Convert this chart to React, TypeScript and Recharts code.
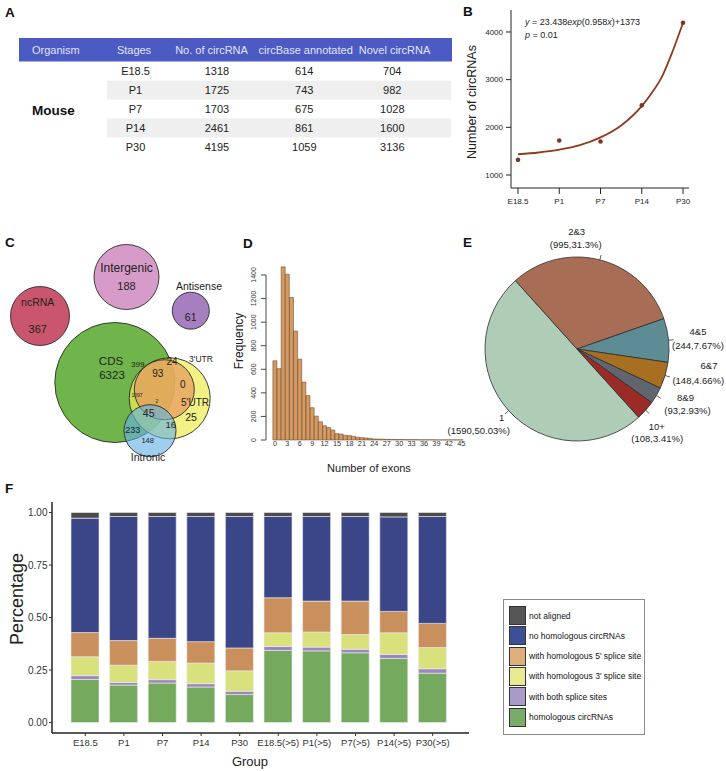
import React from 'react';
import {
  ScatterChart, Scatter, XAxis, YAxis, BarChart, Bar, PieChart, Pie, Cell, ReferenceLine,
} from 'recharts';

const FONT = '"Liberation Sans", Arial, Helvetica, sans-serif';

/* ---------------- Panel A: table ---------------- */
const tableHeaders = ['Organism', 'Stages', 'No. of circRNA', 'circBase annotated', 'Novel circRNA'];
const organism = 'Mouse';
const stages = ['E18.5', 'P1', 'P7', 'P14', 'P30'];
const circTotal = [1318, 1725, 1703, 2461, 4195];
const circBaseAnnotated = [614, 743, 675, 861, 1059];
const novelCirc = [704, 982, 1028, 1600, 3136];

/* ---------------- Panel B: fit ---------------- */
const stagePos = [1, 2, 3, 4, 5];
const fitPosX = [1, 1.5, 2, 2.5, 3, 3.5, 4, 4.25, 4.5, 4.75, 5];
const fitValues = [1435, 1472, 1531, 1625, 1789, 2040, 2445, 2730, 3080, 3600, 4195];
const bTicks = [1000, 2000, 3000, 4000];

/* ---------------- Panel C: Venn ---------------- */
const vennSetNames = ['ncRNA', 'Intergenic', 'Antisense', 'CDS', "5'UTR", "3'UTR", 'Intronic'];
const vennRegionCounts = [367, 188, 61, 6323, 399, 24, 93, 0, 1097, 2, 25, 45, 16, 233, 148];

/* ---------------- Panel D: histogram ---------------- */
const exonFrequency = [
  672, 605, 1469, 1407, 1209, 924, 686, 492, 376, 274,
  203, 155, 121, 105, 85, 54, 51, 40, 37, 31,
  23, 20, 17, 14, 9, 8, 7, 6, 5, 5,
  4, 4, 3, 3, 3, 2, 2, 2, 2, 1,
  1, 1, 1, 1, 1, 1,
];
const histYTicks = [0, 200, 400, 600, 800, 1000, 1200, 1400];

/* ---------------- Panel E: pie ---------------- */
const exonGroups = ['1', '2&3', '4&5', '6&7', '8&9', '10+'];
const exonGroupCounts = [1590, 995, 244, 148, 93, 108];
const exonGroupPct = ['50.03', '31.3', '7.67', '4.66', '2.93', '3.41'];

/* ---------------- Panel F: stacked bars ---------------- */
const fGroups = ['E18.5', 'P1', 'P7', 'P14', 'P30', 'E18.5(>5)', 'P1(>5)', 'P7(>5)', 'P14(>5)', 'P30(>5)'];
const homologous = [0.205, 0.178, 0.188, 0.169, 0.133, 0.343, 0.341, 0.332, 0.305, 0.235];
const bothSites = [0.018, 0.013, 0.016, 0.016, 0.016, 0.019, 0.018, 0.017, 0.019, 0.021];
const threePrime = [0.090, 0.082, 0.087, 0.098, 0.097, 0.065, 0.072, 0.070, 0.103, 0.101];
const fivePrime = [0.115, 0.117, 0.110, 0.102, 0.109, 0.167, 0.147, 0.159, 0.102, 0.115];
const noHomologous = [0.545, 0.591, 0.580, 0.596, 0.626, 0.387, 0.403, 0.403, 0.450, 0.509];
const notAligned = [0.027, 0.019, 0.019, 0.019, 0.019, 0.019, 0.019, 0.019, 0.021, 0.019];
const fSeriesLabels = [
  'homologous circRNAs', 'with both splice sites', "with homologous 3' splice site",
  "with homologous 5' splice site", 'no homologous circRNAs', 'not aligned',
];
const fTicks = [0, 0.25, 0.5, 0.75, 1];

/* ---------------- styles / layout ---------------- */
const fSeriesKeys = ['homologous', 'bothSites', 'threePrime', 'fivePrime', 'noHomologous', 'notAligned'];
const fSeriesColors = ['#74A95E', '#9C86C2', '#D9E17D', '#C98F5D', '#3B4689', '#4B4B4B'];
const fLegendColors = ['#79AC66', '#A99BC9', '#E9EA92', '#DDB07C', '#3E4F96', '#555555'];
const pieColors = ['#AFCCB7', '#A86D55', '#5E8C95', '#A66F21', '#60656F', '#9B2B27'];

const vennCircleLayout = [
  { cx: 40, cy: 76, r: 29.5, fill: '#C9566C', op: 1 },
  { cx: 126.5, cy: 37, r: 32.5, fill: '#D79BC9', op: 1 },
  { cx: 190.8, cy: 70.7, r: 18.5, fill: '#A77EC0', op: 1 },
  { cx: 114.8, cy: 142.5, r: 60, fill: '#6FB54B', op: 1 },
  { cx: 169.7, cy: 158.3, r: 40.5, fill: '#EDEC55', op: 0.72 },
  { cx: 164.3, cy: 149.7, r: 30, fill: '#E69A5E', op: 0.72 },
  { cx: 150, cy: 190.7, r: 26, fill: '#63B2E3', op: 0.62 },
];
const vennNameLayout = [
  { x: 37.7, y: 62, fs: 10.5 },
  { x: 126.5, y: 28, fs: 12 },
  { x: 199, y: 46, fs: 10.5 },
  { x: 111, y: 121.3, fs: 11.5 },
  { x: 195, y: 162, fs: 10 },
  { x: 201, y: 119.3, fs: 8.5 },
  { x: 148, y: 216.7, fs: 10.5 },
];
const vennCountLayout = [
  { x: 37.7, y: 89, fs: 11 },
  { x: 126.5, y: 46, fs: 11 },
  { x: 190.7, y: 76.7, fs: 10.5 },
  { x: 112, y: 134.8, fs: 11.5 },
  { x: 137.7, y: 124.3, fs: 8 },
  { x: 172, y: 121.3, fs: 10 },
  { x: 157.7, y: 133.3, fs: 10 },
  { x: 182.7, y: 144.3, fs: 10 },
  { x: 137, y: 155, fs: 5 },
  { x: 157, y: 160.7, fs: 5 },
  { x: 191, y: 177, fs: 10.5 },
  { x: 148.7, y: 172.7, fs: 10.5 },
  { x: 170.7, y: 184.7, fs: 9.5 },
  { x: 132.7, y: 190, fs: 9 },
  { x: 147.7, y: 200.3, fs: 7.5 },
];
const pieLabelLayout = [
  { x1: -75.3, y1: 68.3, x2: -98.3, y2: 81 },
  { x1: -0.3, y1: -117.3, x2: -1.3, y2: -104.7 },
  { x1: 121, y1: -17.3, x2: 121, y2: -4 },
  { x1: 132, y1: 16.7, x2: 121.3, y2: 31 },
  { x1: 108.5, y1: 48.7, x2: 110.5, y2: 61.7 },
  { x1: 79.7, y1: 77, x2: 80.2, y2: 89.3 },
];

/* ---------------- derived chart tables ---------------- */
const pointsB = stagePos.map((x, i) => ({ x, y: circTotal[i] }));
const curveB = fitPosX.map((x, i) => ({ x, y: fitValues[i] }));
const vennCircleData = vennSetNames.map((name, i) => ({ name, x: vennCircleLayout[i].cx, y: vennCircleLayout[i].cy, i }));
const vennTextData = [
  ...vennSetNames.map((name, i) => ({ text: name, x: vennNameLayout[i].x, y: vennNameLayout[i].y, fs: vennNameLayout[i].fs })),
  ...vennRegionCounts.map((c, i) => ({ text: String(c), x: vennCountLayout[i].x, y: vennCountLayout[i].y, fs: vennCountLayout[i].fs })),
];
const histData = exonFrequency.map((freq, i) => ({ exons: i, freq }));
const pieData = exonGroups.map((group, i) => ({ group, count: exonGroupCounts[i] }));
const fSeriesValues = [homologous, bothSites, threePrime, fivePrime, noHomologous, notAligned];
const fData = fGroups.map((group, gi) => {
  const row: any = { group };
  fSeriesKeys.forEach((k, si) => { row[k] = fSeriesValues[si][gi]; });
  return row;
});

/* ---------------- panels ---------------- */
function PanelA() {
  const headX = [32, 134, 211.5, 305.7, 394.5];
  const colX = [135.5, 217, 304.3, 392.3];
  const rowY = [71, 90.3, 109.3, 128, 146.7];
  return (
    <svg width={460} height={170} style={{ position: 'absolute', left: 0, top: 0 }} fontFamily={FONT}>
      <rect x={19} y={38} width={433} height={23.5} fill="#4C5AC4" />
      {tableHeaders.map((h, i) => (
        <text key={h} x={headX[i]} y={50} textAnchor={i === 0 ? 'start' : 'middle'} dominantBaseline="central" fontSize={11} fill="#E2E5F5">{h}</text>
      ))}
      {stages.map((s, i) => (i % 2 === 1 ? (
        <rect key={'bg' + s} x={107} y={rowY[i] - 9.6} width={344} height={19} fill="#EFEFEF" />
      ) : null))}
      {stages.map((s, i) => (
        <g key={s} fontSize={11} fill="#222">
          <text x={colX[0]} y={rowY[i]} textAnchor="middle" dominantBaseline="central">{s}</text>
          <text x={colX[1]} y={rowY[i]} textAnchor="middle" dominantBaseline="central">{circTotal[i]}</text>
          <text x={colX[2]} y={rowY[i]} textAnchor="middle" dominantBaseline="central">{circBaseAnnotated[i]}</text>
          <text x={colX[3]} y={rowY[i]} textAnchor="middle" dominantBaseline="central">{novelCirc[i]}</text>
        </g>
      ))}
      <text x={32} y={110} dominantBaseline="central" fontSize={13.5} fontWeight="bold" fill="#111">{organism}</text>
    </svg>
  );
}

const axisStroke = '#222';

function PanelB() {
  return (
    <div style={{ position: 'absolute', left: 460, top: 0 }}>
      <ScatterChart width={266} height={220} margin={{ top: 10, right: 37, bottom: 0, left: 0 }}>
        <XAxis type="number" dataKey="x" domain={[0.83, 5.145]} allowDataOverflow ticks={stagePos}
          tickFormatter={(v: number) => stages[v - 1]} interval={0} height={32} tickSize={6} tickMargin={4}
          axisLine={{ stroke: axisStroke }} tickLine={{ stroke: axisStroke }}
          tick={{ fontSize: 8, fill: '#222', fontFamily: FONT }} />
        <XAxis xAxisId="top" orientation="top" type="number" dataKey="x" domain={[0.83, 5.145]} allowDataOverflow
          height={0} tick={false} tickLine={false} axisLine={{ stroke: axisStroke }} />
        <YAxis type="number" dataKey="y" domain={[727, 4461]} allowDataOverflow ticks={bTicks} interval={0}
          width={51} tickSize={5} tickMargin={3} axisLine={{ stroke: axisStroke }} tickLine={{ stroke: axisStroke }}
          tick={{ fontSize: 8, fill: '#222', fontFamily: FONT }} />
        <YAxis yAxisId="right" orientation="right" type="number" dataKey="y" domain={[727, 4461]} allowDataOverflow
          width={0} tick={false} tickLine={false} axisLine={{ stroke: axisStroke }} />
        <Scatter data={curveB} line={{ stroke: '#8E3B1E', strokeWidth: 1.8 }} lineJointType="monotoneX"
          shape={(p: any) => <circle cx={p.cx} cy={p.cy} r={0} />} isAnimationActive={false} />
        <Scatter data={pointsB} shape={(p: any) => <circle cx={p.cx} cy={p.cy} r={2.3} fill="#7E3520" />}
          isAnimationActive={false} />
      </ScatterChart>
    </div>
  );
}

function PanelC() {
  return (
    <div style={{ position: 'absolute', left: 0, top: 240 }}>
      <ScatterChart width={260} height={230} margin={{ top: 0, right: 0, bottom: 0, left: 0 }}>
        <XAxis type="number" dataKey="x" domain={[0, 260]} allowDataOverflow hide height={0} />
        <YAxis type="number" dataKey="y" domain={[0, 230]} allowDataOverflow reversed hide width={0} />
        <Scatter data={vennCircleData} isAnimationActive={false}
          shape={(p: any) => {
            const L = vennCircleLayout[p.payload.i];
            return <circle cx={p.cx} cy={p.cy} r={L.r} fill={L.fill} fillOpacity={L.op} stroke="#2a2a2a" strokeWidth={0.9} />;
          }} />
        <Scatter data={vennTextData} isAnimationActive={false}
          shape={(p: any) => (
            <text x={p.cx} y={p.cy} textAnchor="middle" dominantBaseline="central" fontSize={p.payload.fs}
              fill="#222" fontFamily={FONT}>{p.payload.text}</text>
          )} />
      </ScatterChart>
    </div>
  );
}

function HistYTick(props: any) {
  const { x, y, payload } = props;
  return (
    <g>
      <line x1={x - 12} x2={x - 7} y1={y} y2={y} stroke="#333" strokeWidth={0.9} />
      <text transform={`translate(${x - 19},${y}) rotate(-90)`} textAnchor="middle" dominantBaseline="central"
        fontSize={7} fill="#333" fontFamily={FONT}>{payload.value}</text>
    </g>
  );
}

function PanelD() {
  return (
    <div style={{ position: 'absolute', left: 200, top: 250 }}>
      <BarChart width={280} height={230} data={histData} margin={{ top: 13.2, right: 16.7, bottom: 0, left: 52.9 }}
        barCategoryGap={0} barGap={0}>
        <XAxis dataKey="exons" interval={2} tickSize={0} tickMargin={1} axisLine={false} tickLine={false} height={40}
          tick={{ fontSize: 7.3, fill: '#333', fontFamily: FONT }} />
        <YAxis type="number" domain={[0, 1500]} ticks={histYTicks} interval={0} width={20} axisLine={false}
          tickLine={false} tickSize={0} tickMargin={0} tick={<HistYTick />} />
        <ReferenceLine segment={[{ x: 0, y: 0 }, { x: 0, y: 1400 }]} position="start" ifOverflow="visible"
          shape={(p: any) => <line x1={p.x1 - 6.9} x2={p.x2 - 6.9} y1={p.y1} y2={p.y2} stroke="#333" strokeWidth={0.9} />} />
        <Bar dataKey="freq" fill="#D49A62" stroke="#5C3A1E" strokeWidth={0.5} isAnimationActive={false} />
      </BarChart>
    </div>
  );
}

const RADIAN = Math.PI / 180;
function renderPieLabel(props: any) {
  const { cx, cy, midAngle, outerRadius, index } = props;
  const cos = Math.cos(-midAngle * RADIAN);
  const sin = Math.sin(-midAngle * RADIAN);
  const L = pieLabelLayout[index];
  return (
    <g key={'lbl' + index}>
      <line x1={cx + outerRadius * cos} y1={cy + outerRadius * sin} x2={cx + (outerRadius + 5) * cos}
        y2={cy + (outerRadius + 5) * sin} stroke="#333" strokeWidth={0.8} />
      <text x={cx + L.x1} y={cy + L.y1} textAnchor="middle" dominantBaseline="central" fontSize={9.5} fill="#222"
        fontFamily={FONT}>{exonGroups[index]}</text>
      <text x={cx + L.x2} y={cy + L.y2} textAnchor="middle" dominantBaseline="central" fontSize={9.5} fill="#222"
        fontFamily={FONT}>{`(${exonGroupCounts[index]},${exonGroupPct[index]}%)`}</text>
    </g>
  );
}

function PanelE() {
  return (
    <div style={{ position: 'absolute', left: 420, top: 215 }}>
      <PieChart width={306} height={240} margin={{ top: 0, right: 0, bottom: 0, left: 0 }}>
        <Pie data={pieData} dataKey="count" nameKey="group" cx={157} cy={134} outerRadius={92} innerRadius={0}
          startAngle={-47.9} endAngle={-407.9} stroke="#2d2d2d" strokeWidth={0.8} label={renderPieLabel}
          labelLine={false} isAnimationActive={false}>
          {pieData.map((d, i) => <Cell key={d.group} fill={pieColors[i]} />)}
        </Pie>
      </PieChart>
    </div>
  );
}

function PanelF() {
  return (
    <div style={{ position: 'absolute', left: 0, top: 495 }}>
      <BarChart width={480} height={276} data={fData} margin={{ top: 7, right: 11, bottom: 0, left: 0 }} barSize={28}>
        <XAxis dataKey="group" height={38} padding={{ left: 14, right: 17 }} interval={0} tickSize={3} tickMargin={3}
          axisLine={{ stroke: axisStroke, strokeWidth: 1.5 }} tickLine={{ stroke: '#333' }}
          tick={{ fontSize: 9.5, fill: '#333', fontFamily: FONT }} />
        <XAxis xAxisId="top" orientation="top" dataKey="group" height={0} tick={false} tickLine={false}
          axisLine={{ stroke: axisStroke, strokeWidth: 1.5 }} />
        <YAxis type="number" domain={[-0.05, 1.05]} allowDataOverflow ticks={fTicks} interval={0} width={52}
          tickFormatter={(v: number) => v.toFixed(2)} tickSize={3} tickMargin={1.5}
          axisLine={{ stroke: axisStroke, strokeWidth: 1.5 }} tickLine={{ stroke: '#333' }}
          tick={{ fontSize: 10, fill: '#333', fontFamily: FONT }} />
        <YAxis yAxisId="right" orientation="right" type="number" domain={[-0.05, 1.05]} allowDataOverflow width={0}
          tick={false} tickLine={false} axisLine={{ stroke: axisStroke, strokeWidth: 1.5 }} />
        {fSeriesKeys.map((k, i) => (
          <Bar key={k} dataKey={k} stackId="a" fill={fSeriesColors[i]} stroke="#ececec" strokeWidth={0.6}
            isAnimationActive={false} />
        ))}
      </BarChart>
    </div>
  );
}

function LegendF() {
  const order = [5, 4, 3, 2, 1, 0];
  return (
    <div style={{ position: 'absolute', left: 503, top: 599, width: 142, height: 136, border: '1px solid #8a8a8a',
      boxSizing: 'border-box', fontFamily: FONT }}>
      {order.map((si, row) => (
        <div key={fSeriesKeys[si]} style={{ position: 'absolute', left: 5, top: 6 + row * 20.3, height: 19,
          display: 'flex', alignItems: 'center' }}>
          <div style={{ width: 17, height: 19, background: fLegendColors[si], border: '1px solid #333',
            boxSizing: 'border-box' }} />
          <span style={{ marginLeft: 3, fontSize: 8.5, color: '#111', whiteSpace: 'nowrap' }}>{fSeriesLabels[si]}</span>
        </div>
      ))}
    </div>
  );
}

function Overlay() {
  const letter = { fontSize: 13.5, fontWeight: 'bold' as const, fill: '#111' };
  return (
    <svg width={726} height={771} style={{ position: 'absolute', left: 0, top: 0, pointerEvents: 'none' }} fontFamily={FONT}>
      <text x={5} y={17} {...letter}>A</text>
      <text x={463} y={16} {...letter}>B</text>
      <text x={5} y={247} {...letter}>C</text>
      <text x={243} y={248} {...letter}>D</text>
      <text x={463} y={247} {...letter}>E</text>
      <text x={5} y={493} {...letter}>F</text>

      <text transform="translate(471.5,102) rotate(-90)" textAnchor="middle" dominantBaseline="central" fontSize={12.5} fill="#222">Number of circRNAs</text>
      <text x={525} y={25} fontSize={9} fill="#222">
        <tspan fontStyle="italic">y</tspan><tspan> = 23.438</tspan><tspan fontStyle="italic">exp</tspan>
        <tspan>(0.958</tspan><tspan fontStyle="italic">x</tspan><tspan>)+1373</tspan>
      </text>
      <text x={525} y={37.5} fontSize={9} fill="#222"><tspan fontStyle="italic">p</tspan><tspan> = 0.01</tspan></text>

      <text transform="translate(238.5,341) rotate(-90)" textAnchor="middle" dominantBaseline="central" fontSize={12} fill="#222">Frequency</text>
      <text x={369} y={468} textAnchor="middle" dominantBaseline="central" fontSize={11} fill="#222">Number of exons</text>

      <text transform="translate(16.5,599) rotate(-90)" textAnchor="middle" dominantBaseline="central" fontSize={18} fill="#222">Percentage</text>
      <text x={250} y={761} textAnchor="middle" dominantBaseline="central" fontSize={13} fill="#222">Group</text>
    </svg>
  );
}

export default function App() {
  return (
    <div style={{ position: 'absolute', left: 0, top: 0, width: 726, height: 771, background: '#fff', fontFamily: FONT, overflow: 'hidden' }}>
      <PanelA />
      <PanelB />
      <PanelC />
      <PanelD />
      <PanelE />
      <PanelF />
      <LegendF />
      <Overlay />
    </div>
  );
}
